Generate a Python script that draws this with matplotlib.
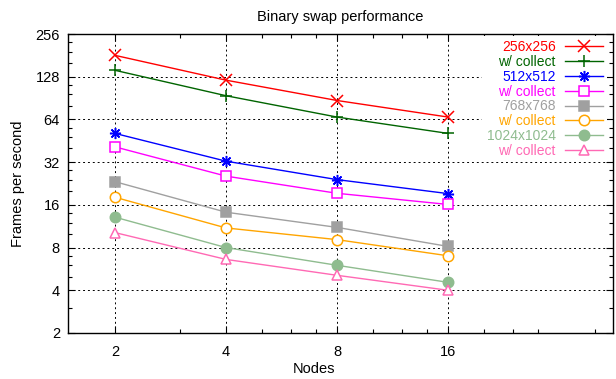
import matplotlib
matplotlib.use("Agg")
import matplotlib.pyplot as plt
from matplotlib.ticker import FixedLocator, NullFormatter

plt.rcParams['font.family'] = ['Liberation Sans', 'DejaVu Sans']

nodes = [2, 4, 8, 16]
s256 = [181, 121, 87, 66.5]
s256c = [142, 94, 66.5, 51]
s512 = [51, 32.5, 24.1, 19.2]
s512c = [41, 25.5, 19.3, 16.1]
s768 = [23.3, 14.2, 11.1, 8.15]
s768c = [18.1, 11.0, 9.1, 7.0]
s1024 = [13.1, 8.0, 6.0, 4.55]
s1024c = [10.2, 6.6, 5.1, 4.0]

labels = ["256x256", "w/ collect", "512x512", "w/ collect",
          "768x768", "w/ collect", "1024x1024", "w/ collect"]
series = [s256, s256c, s512, s512c, s768, s768c, s1024, s1024c]
colors = ["#ff0000", "#006400", "#0000ff", "#ff00ff",
          "#a0a0a0", "#ffa500", "#8fbc8f", "#ff69b4"]
markers = ["x", "+", (8, 2, 0), "s", "s", "o", "o", "^"]
filled = [True, True, True, False, True, False, True, False]
msizes = [8, 9, 8, 7.5, 7.5, 7.5, 7.5, 7]

yticks = [2, 4, 8, 16, 32, 64, 128, 256]
xticks = [2, 4, 8, 16]

FS = 10.5

fig = plt.figure(figsize=(6.16, 3.79), dpi=100)
ax = fig.add_axes([68/616, 1-333/379, (613-68)/616, (333-34)/379])

for vals, lab, c, m, f, ms in zip(series, labels, colors, markers, filled, msizes):
    ax.plot(nodes, vals, color=c, lw=1.0, marker=m, ms=ms, mew=1.1,
            mfc=(c if f else "white"), mec=c, label=lab, zorder=3)

ax.set_xscale("log", base=2)
ax.set_yscale("log", base=2)
ax.set_xlim(1.491, 44.8)
ax.set_ylim(2, 256)

ax.xaxis.set_major_locator(FixedLocator(xticks))
ax.set_xticklabels([str(v) for v in xticks])
ax.xaxis.set_minor_locator(FixedLocator([3, 5, 6, 7, 10, 12, 14, 20, 24, 28, 40]))
ax.xaxis.set_minor_formatter(NullFormatter())
ax.yaxis.set_major_locator(FixedLocator(yticks))
ax.set_yticklabels([str(v) for v in yticks])
ax.yaxis.set_minor_locator(FixedLocator([3, 5, 6, 7, 10, 12, 14, 20, 24, 28,
                                         40, 48, 56, 80, 96, 112, 160, 192, 224]))
ax.yaxis.set_minor_formatter(NullFormatter())

ax.tick_params(which="both", direction="in", top=True, right=True,
               labelsize=FS, colors="black", width=0.8)
ax.tick_params(which="major", length=5)
ax.tick_params(which="minor", length=3)
ax.tick_params(axis="x", which="major", pad=8.5)
ax.tick_params(axis="y", which="major", pad=5.8)

ax.grid(True, which="major", color="black", lw=0.7, ls=(0, (2, 3)))
for sp in ax.spines.values():
    sp.set_linewidth(1.0)

ax.set_title("Binary swap performance", fontsize=FS, pad=9)
ax.set_xlabel("Nodes", fontsize=FS)
ax.xaxis.set_label_coords((314-68)/545, -0.098)
ax.set_ylabel("Frames per second", fontsize=FS)
ax.yaxis.set_label_coords(-0.079, 0.5)

leg = ax.legend(loc="upper right", bbox_to_anchor=(607/616, 1-36/379),
                bbox_transform=fig.transFigure, markerfirst=False, fontsize=10,
                handlelength=2.7, handletextpad=0.7, labelspacing=0.06,
                borderpad=0.3, borderaxespad=0, frameon=True, fancybox=False)
leg.get_frame().set_facecolor("white")
leg.get_frame().set_edgecolor("none")
leg.get_frame().set_alpha(1)
leg.set_zorder(5)
for t, c in zip(leg.get_texts(), colors):
    t.set_color(c)

fig.savefig("out.png", dpi=100)
